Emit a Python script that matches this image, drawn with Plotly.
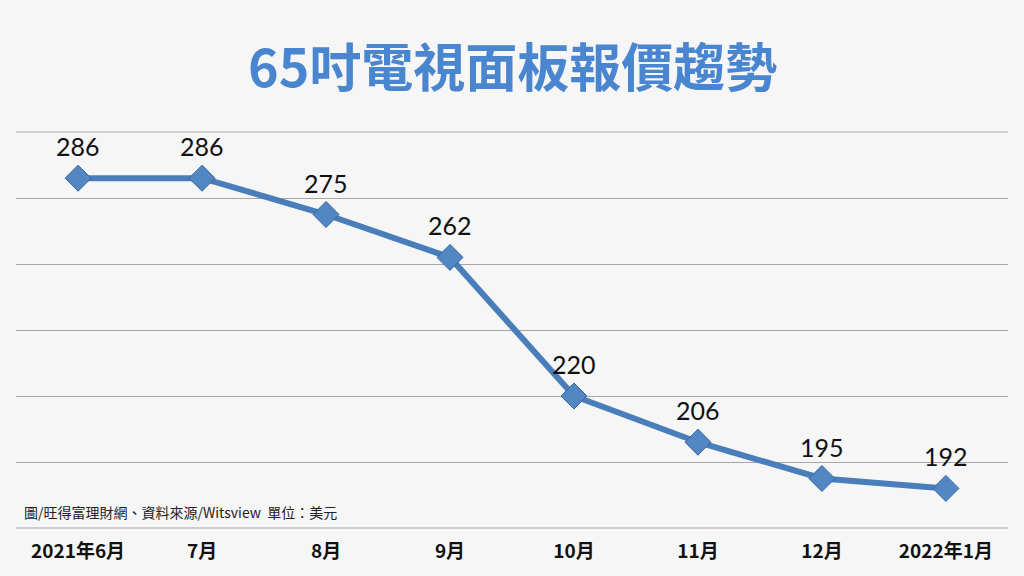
import plotly.graph_objects as go

# 65吋電視面板報價 (美元)
months = ["2021年6月", "7月", "8月", "9月", "10月", "11月", "12月", "2022年1月"]
prices = [286, 286, 275, 262, 220, 206, 195, 192]

title_text = "65吋電視面板報價趨勢"
source_text = "圖/旺得富理財網、資料來源/Witsview  單位：美元"

fig = go.Figure()
fig.add_trace(go.Scatter(
    x=months,
    y=prices,
    mode="lines+markers",
    line=dict(color="#4a7ebb", width=6),
    marker=dict(symbol="diamond", size=20, color="#5287c4",
                line=dict(color="#35659c", width=1)),
    cliponaxis=False,
))

# value labels above each point
for m, v in zip(months, prices):
    fig.add_annotation(
        x=m, y=v, text=str(v), showarrow=False, yshift=32,
        font=dict(family="Lato", size=25, color="#111111"),
    )

fig.update_layout(
    width=1024, height=576,
    margin=dict(l=16, r=16, t=132, b=48),
    paper_bgcolor="#f6f6f6",
    plot_bgcolor="#f6f6f6",
    showlegend=False,
    font=dict(family="Noto Sans CJK TC"),
)
fig.update_xaxes(
    type="category",
    showgrid=False,
    showline=False,
    zeroline=False,
    ticks="",
    ticklabelstandoff=10,
    tickfont=dict(family="Noto Sans CJK TC", size=19, color="#111111", weight="bold"),
)
fig.update_yaxes(
    range=[180, 300],
    dtick=20,
    showticklabels=False,
    showgrid=True,
    gridcolor="#a6a6a6",
    gridwidth=1,
    zeroline=False,
    showline=False,
)
fig.add_shape(type="line", xref="paper", yref="paper", x0=0, x1=1, y0=1, y1=1,
              line=dict(color="#a6a6a6", width=1))
fig.add_shape(type="line", xref="paper", yref="paper", x0=0, x1=1, y0=0, y1=0,
              line=dict(color="#a6a6a6", width=1))

fig.add_annotation(
    text=title_text, xref="paper", yref="paper", x=0.5, y=1, yshift=68,
    showarrow=False, xanchor="center", yanchor="middle",
    font=dict(family="Noto Sans CJK TC", size=52, color="#4a86d0", weight="bold"),
)
fig.add_annotation(
    text=source_text, xref="paper", yref="paper", x=0, y=0, xshift=6, yshift=16,
    showarrow=False, xanchor="left", yanchor="middle",
    font=dict(family="Noto Sans CJK TC", size=14, color="#222222"),
)

fig.write_html("out.html", config={"displayModeBar": False},
               post_script="document.body.style.margin='0px';")
